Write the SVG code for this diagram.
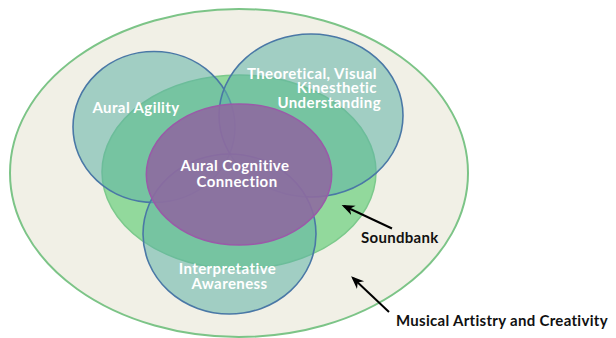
<svg xmlns="http://www.w3.org/2000/svg" width="616" height="338" viewBox="0 0 616 338">
  <style>
    .outer { fill: #f1f0e6; stroke: #7cc487; stroke-width: 2; }
    .bank { fill: #92d99c; stroke: #7cc98c; stroke-width: 1.5; }
    .skill { fill: #5fb3a5; fill-opacity: 0.55; stroke: #4a78a6; stroke-width: 1.6; }
    .core { fill: #8e6aa0; fill-opacity: 0.9; stroke: #9a5aa8; stroke-width: 1.5; }
    .in { font-family: Lato, "Liberation Sans", sans-serif; font-weight: bold; font-size: 15px; letter-spacing: 0.4px; fill: #ffffff; }
    .out { font-family: Lato, "Liberation Sans", sans-serif; font-weight: bold; font-size: 15px; letter-spacing: 0.3px; fill: #111111; }
    .arrow { stroke: #000000; stroke-width: 2; fill: none; }
  </style>
  <defs>
    <marker id="head" viewBox="0 0 10 10" refX="8" refY="5" markerWidth="6.5" markerHeight="6.5" orient="auto">
      <path d="M0,1 L10,5 L0,9 L3,5 Z" fill="#000000"/>
    </marker>
  </defs>

  <g id="musical-artistry">
    <ellipse class="outer" cx="239" cy="173" rx="229" ry="164"/>
  </g>
  <g id="soundbank">
    <ellipse class="bank" cx="239" cy="172" rx="137" ry="97"/>
  </g>
  <g id="aural-agility">
    <ellipse class="skill" cx="154" cy="127" rx="81" ry="75.5"/>
  </g>
  <g id="theoretical">
    <ellipse class="skill" cx="311" cy="115.5" rx="92" ry="81.5"/>
  </g>
  <g id="interpretative">
    <ellipse class="skill" cx="229.5" cy="234" rx="86.5" ry="80"/>
  </g>
  <g id="aural-cognitive">
    <ellipse class="core" cx="239" cy="174.5" rx="92.7" ry="70.5"/>
  </g>

  <g id="labels">
    <text class="in" x="136" y="112.5" text-anchor="middle">Aural Agility</text>
    <text class="in" text-anchor="end">
      <tspan x="381" y="78.5">Theoretical, Visual</tspan>
      <tspan x="381" y="93">Kinesthetic</tspan>
      <tspan x="381" y="107.5">Understanding</tspan>
    </text>
    <text class="in" text-anchor="middle">
      <tspan x="237" y="170.5">Aural Cognitive</tspan>
      <tspan x="237" y="186.5">Connection</tspan>
    </text>
    <text class="in" text-anchor="middle">
      <tspan x="229.5" y="273.5">Interpretative</tspan>
      <tspan x="229.5" y="288.5">Awareness</tspan>
    </text>
    <text class="out" x="361" y="242.5">Soundbank</text>
    <text class="out" x="396" y="325.5">Musical Artistry and Creativity</text>
  </g>

  <g id="connectors">
    <line class="arrow" x1="392" y1="228.5" x2="344" y2="206" marker-end="url(#head)"/>
    <line class="arrow" x1="389" y1="312" x2="353" y2="278" marker-end="url(#head)"/>
  </g>
</svg>
